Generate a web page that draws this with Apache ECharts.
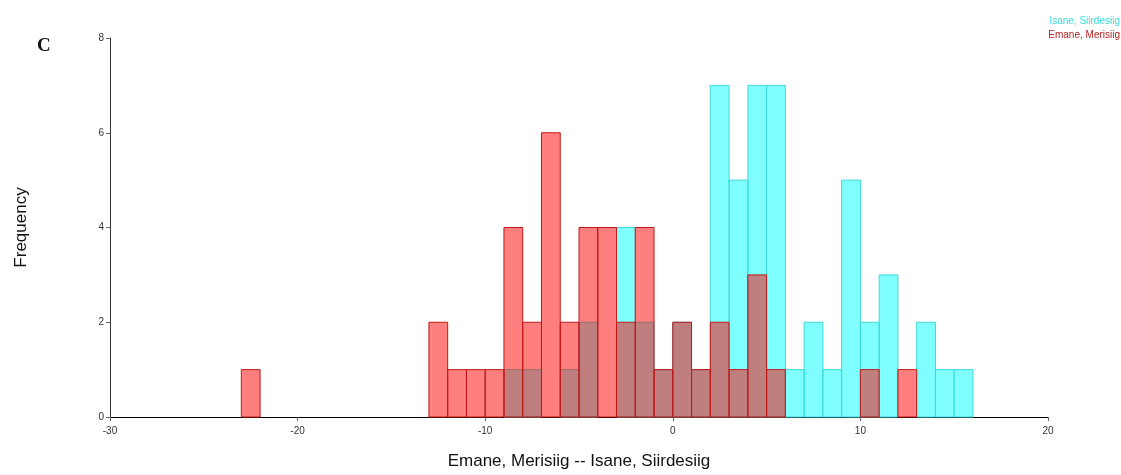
<!DOCTYPE html>
<html>
<head>
<meta charset="utf-8">
<script src="https://cdn.jsdelivr.net/npm/echarts@6/dist/echarts.min.js"></script>
<style>
  html, body { margin: 0; padding: 0; background: #fff; }
  #chart { width: 1121px; height: 475px; }
</style>
</head>
<body>
<div id="chart"></div>
<script>
// histogram bins (left edge, width 1)
const binWidth = 1;
const redName = 'Emane, Merisiig';
const redBins = [-23, -13, -12, -11, -10, -9, -8, -7, -6, -5, -4, -3, -2, -1, 0, 1, 2, 3, 4, 5, 10, 12];
const redCounts = [1, 2, 1, 1, 1, 4, 2, 6, 2, 4, 4, 2, 4, 1, 2, 1, 2, 1, 3, 1, 1, 1];

const cyanName = 'Isane, Siirdesiig';
const cyanBins = [-9, -8, -6, -5, -3, -2, -1, 0, 1, 2, 3, 4, 5, 6, 7, 8, 9, 10, 11, 13, 14, 15];
const cyanCounts = [1, 1, 1, 2, 4, 2, 1, 2, 1, 7, 5, 7, 7, 1, 2, 1, 5, 2, 3, 2, 1, 1];

const xTicks = [-30, -20, -10, 0, 10, 20];
const yTicks = [0, 2, 4, 6, 8];

const chart = echarts.init(document.getElementById('chart'));

const makeRender = (fill, stroke) => (params, api) => {
  const x0 = api.value(0);
  const c = api.value(1);
  const p0 = api.coord([x0, c]);
  const p1 = api.coord([x0 + binWidth, 0]);
  return {
    type: 'rect',
    shape: { x: p0[0], y: p0[1], width: p1[0] - p0[0], height: p1[1] - p0[1] },
    style: { fill: fill, stroke: stroke, lineWidth: 1 }
  };
};

chart.setOption({
  animation: false,
  grid: { left: 110, right: 73, top: 38, bottom: 56 },
  legend: {
    orient: 'vertical',
    right: -4,
    top: 16,
    padding: 0,
    itemGap: 4,
    itemWidth: 0,
    itemHeight: 0,
    icon: 'none',
    align: 'right',
    textStyle: { fontSize: 10, fontFamily: 'Arial, Liberation Sans, sans-serif', padding: 0 },
    data: [
      { name: cyanName, textStyle: { color: '#33dddd' } },
      { name: redName, textStyle: { color: '#b82020' } }
    ]
  },
  xAxis: {
    type: 'value',
    min: xTicks[0],
    max: xTicks[xTicks.length - 1],
    interval: 10,
    splitLine: { show: false },
    axisLine: { onZero: false, lineStyle: { color: '#000', width: 1 } },
    axisTick: { show: true, length: 4, lineStyle: { color: '#666' } },
    axisLabel: { fontSize: 10, color: '#333', margin: 9, fontFamily: 'Arial, Liberation Sans, sans-serif' },
    name: 'Emane, Merisiig -- Isane, Siirdesiig',
    nameLocation: 'middle',
    nameGap: 36,
    nameTextStyle: { fontSize: 17, color: '#111', fontFamily: 'Arial, Liberation Sans, sans-serif' }
  },
  yAxis: {
    type: 'value',
    min: yTicks[0],
    max: yTicks[yTicks.length - 1],
    interval: 2,
    splitLine: { show: false },
    axisLine: { show: true, onZero: false, lineStyle: { color: '#333', width: 1 } },
    axisTick: { show: true, length: 4, lineStyle: { color: '#666' } },
    axisLabel: { fontSize: 10, color: '#333', margin: 6, fontFamily: 'Arial, Liberation Sans, sans-serif' },
    name: 'Frequency',
    nameLocation: 'middle',
    nameGap: 80,
    nameRotate: 90,
    nameTextStyle: { fontSize: 17, color: '#111', fontFamily: 'Arial, Liberation Sans, sans-serif' }
  },
  graphic: [{
    type: 'text',
    left: 37,
    top: 37,
    style: { text: 'C', fontSize: 19, fontWeight: 'bold', fontFamily: 'Liberation Serif, Times New Roman, serif', fill: '#111' }
  }],
  series: [
    {
      name: cyanName,
      type: 'custom',
      renderItem: makeRender('rgba(0,255,255,0.5)', '#40d8d8'),
      itemStyle: { color: '#33dddd' },
      encode: { x: 0, y: 1 },
      data: cyanBins.map((b, i) => [b, cyanCounts[i]])
    },
    {
      name: redName,
      type: 'custom',
      renderItem: makeRender('rgba(255,0,0,0.5)', '#c01818'),
      itemStyle: { color: '#b82020' },
      encode: { x: 0, y: 1 },
      data: redBins.map((b, i) => [b, redCounts[i]])
    }
  ]
});
</script>
</body>
</html>
